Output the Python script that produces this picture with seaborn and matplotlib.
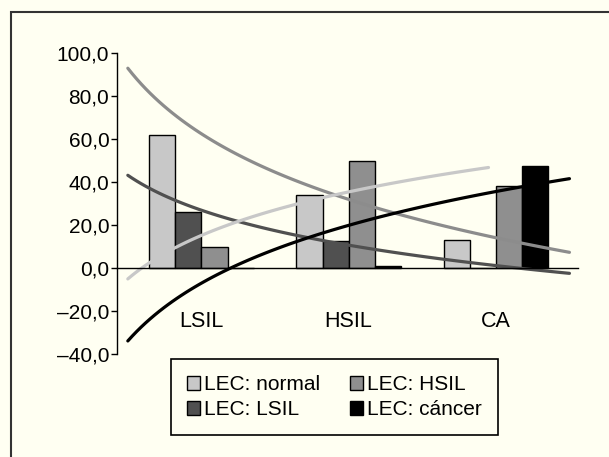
import numpy as np
import pandas as pd
import matplotlib
matplotlib.use("Agg")
import matplotlib.pyplot as plt
import seaborn as sns
from matplotlib.patches import Rectangle

# Values (percent)
categories = ["LSIL", "HSIL", "CA"]
series = ["LEC: normal", "LEC: LSIL", "LEC: HSIL", "LEC: cáncer"]
lec_normal = [61.7, 33.8, 13.0]
lec_lsil = [26.2, 12.7, 0.0]
lec_hsil = [9.9, 49.9, 38.1]
lec_cancer = [0.0, 1.2, 47.4]
y_ticks = [-40, -20, 0, 20, 40, 60, 80, 100]

# Styling
bg = "#fffff2"
bar_colors = ["#c8c8c8", "#505050", "#8f8f8f", "#000000"]
trend_colors = ["#8c8c8c", "#505050", "#c8c8c8", "#000000"]
# x extent of each log trendline (category units, 1-based)
trend_extent = [(0.5, 3.5), (0.5, 3.5), (0.5, 2.95), (0.5, 3.5)]

sns.set_style("white")
plt.rcParams["font.family"] = ["Liberation Sans", "DejaVu Sans"]
plt.rcParams["text.color"] = "black"
plt.rcParams["xtick.color"] = "black"
plt.rcParams["ytick.color"] = "black"
plt.rcParams["axes.labelcolor"] = "black"

positions = np.arange(1, len(categories) + 1)
all_values = [lec_normal, lec_lsil, lec_hsil, lec_cancer]
df = pd.DataFrame({
    "pos": np.tile(positions, len(series)),
    "serie": np.repeat(series, len(categories)),
    "valor": np.concatenate(all_values),
})

fig = plt.figure(figsize=(6.09, 4.57), dpi=100, facecolor=bg)
ax = fig.add_axes([0.192, 0.2243, 0.9486 - 0.192, 0.8847 - 0.2243])
ax.set_facecolor(bg)

# Grouped bars
sns.barplot(data=df, x="pos", y="valor", hue="serie", hue_order=series,
            palette=bar_colors, native_scale=True, width=0.71, saturation=1,
            errorbar=None, edgecolor="black", linewidth=1, ax=ax)

# Logarithmic trendlines for each series
for vals, color, (lo, hi) in zip(all_values, trend_colors, trend_extent):
    ax.set_xlim(lo, hi)
    sns.regplot(x=positions, y=vals, logx=True, ci=None, scatter=False,
                truncate=False, color=color, line_kws={"lw": 2.3}, ax=ax)

ax.set_xlim(0.426, 3.556)
ax.set_ylim(-40, 100)
ax.set_xlabel("")
ax.set_ylabel("")
ax.grid(False)

ax.set_yticks(y_ticks)
ax.set_yticklabels([f"{v:.1f}".replace(".", ",").replace("-", "–") for v in y_ticks])
ax.set_xticks(positions)
ax.set_xticklabels(categories)

ax.spines["top"].set_visible(False)
ax.spines["right"].set_visible(False)
ax.spines["bottom"].set_position(("data", 0))
ax.spines["left"].set_color("black")
ax.spines["bottom"].set_color("black")
ax.spines["left"].set_linewidth(1)
ax.spines["bottom"].set_linewidth(1)

ax.tick_params(axis="x", length=0, pad=31, labelsize=15.5, labelcolor="black")
ax.tick_params(axis="y", left=True, direction="out", length=4, width=1,
               pad=1.5, labelsize=15, color="black", labelcolor="black")

sns.move_legend(ax, "upper left", bbox_to_anchor=(171 / 609, 1 - 359.3 / 457),
                bbox_transform=fig.transFigure, ncol=2, title=None,
                frameon=True, fancybox=False, edgecolor="black", facecolor=bg,
                framealpha=1, fontsize=15, handlelength=0.65, handleheight=0.65,
                handletextpad=0.2, columnspacing=1.4, borderpad=0.75,
                labelspacing=0.3, borderaxespad=0, labelcolor="black")
ax.get_legend().get_frame().set_linewidth(1.2)

# Outer frame around the figure
fig.patches.append(Rectangle((10.5 / 609, -0.1), 1.2, 1 - 11.5 / 457 + 0.1,
                             transform=fig.transFigure, fill=False,
                             edgecolor="#333333", linewidth=1.5))

fig.savefig("out.png", dpi=100, facecolor=bg)
